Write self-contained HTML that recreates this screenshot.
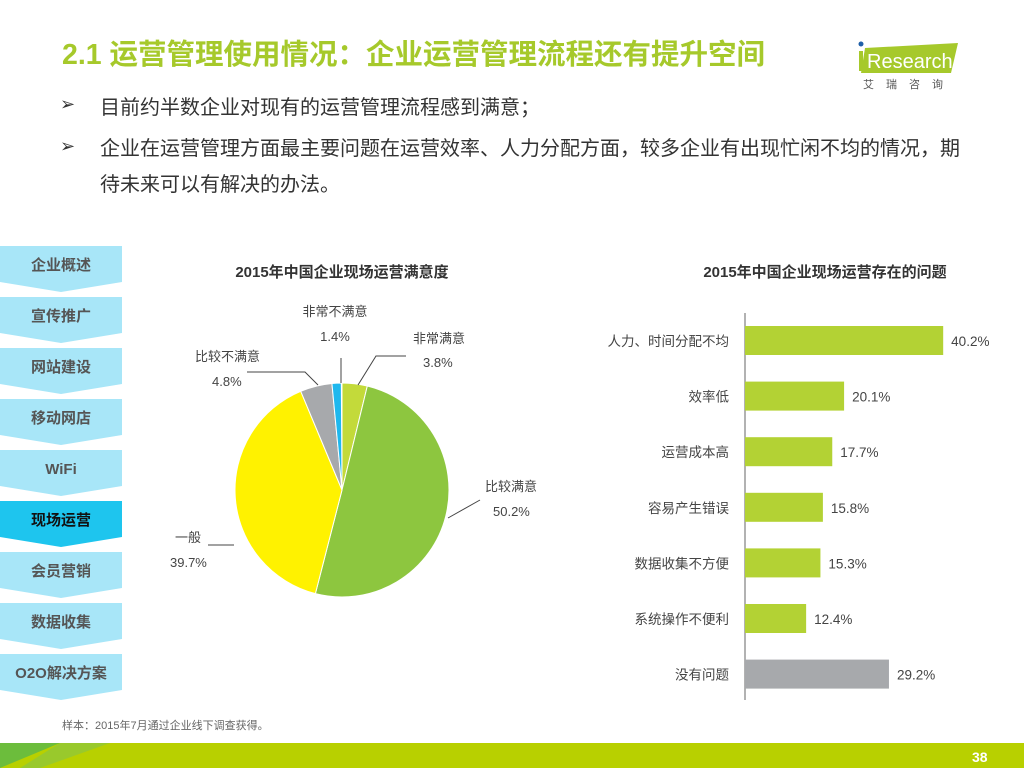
<!DOCTYPE html>
<html><head><meta charset="utf-8"><style>
body{margin:0;width:1024px;height:768px;position:relative;background:#fff;font-family:"Liberation Sans","Noto Sans CJK SC",sans-serif;overflow:hidden}
.t{position:absolute;white-space:nowrap}
</style></head><body>
<div class="t" style="left:62px;top:32px;font-size:28.5px;font-weight:bold;color:#a6c92b">2.1 运营管理使用情况：企业运营管理流程还有提升空间</div>
<svg style="position:absolute;left:855px;top:35px" width="120" height="60">
<polygon points="10,13 103,8 96,38 6,38" fill="#a6c92b"/>
<circle cx="6" cy="9" r="2.5" fill="#1f5fa8"/>
<rect x="4" y="16" width="4" height="20" fill="#a6c92b"/>
<text x="12" y="33" font-family="Liberation Sans" font-size="20" fill="#fff">Research</text>
<text x="8" y="53" font-family="Noto Sans CJK SC" font-size="11" fill="#555" letter-spacing="12">艾瑞咨询</text>
</svg>
<div class="t" style="left:60px;top:94px;font-size:18px;color:#333">➢</div>
<div class="t" style="left:100px;top:91px;font-size:20px;color:#333">目前约半数企业对现有的运营管理流程感到满意；</div>
<div class="t" style="left:60px;top:136px;font-size:18px;color:#333">➢</div>
<div class="t" style="left:100px;top:131px;font-size:20px;color:#333;line-height:36px">企业在运营管理方面最主要问题在运营效率、人力分配方面，较多企业有出现忙闲不均的情况，期<br>待未来可以有解决的办法。</div>
<svg style="position:absolute;left:0;top:0" width="1024" height="768" id="s"></svg>
<div class="t" style="left:62px;top:717px;font-size:11px;color:#666">样本：2015年7月通过企业线下调查获得。</div>
<script>
var s=document.getElementById('s'),h='';
var nav=['企业概述','宣传推广','网站建设','移动网店','WiFi','现场运营','会员营销','数据收集','O2O解决方案'];
for(var i=0;i<9;i++){var y=246+i*51,c=i==5?'#1ec5ee':'#a8e6f8';
h+='<polygon points="0,'+y+' 122,'+y+' 122,'+(y+36)+' 61,'+(y+46)+' 0,'+(y+36)+'" fill="'+c+'"/>';
h+='<text x="61" y="'+(y+24)+'" text-anchor="middle" font-size="15" font-weight="bold" fill="'+(i==5?'#111':'#555')+'" font-family="Liberation Sans,Noto Sans CJK SC,sans-serif">'+nav[i]+'</text>';}
h+='<text x="342" y="277" text-anchor="middle" font-size="15" font-weight="bold" fill="#333" font-family="Liberation Sans,Noto Sans CJK SC,sans-serif">2015年中国企业现场运营满意度</text>';
h+='<text x="825" y="277" text-anchor="middle" font-size="15" font-weight="bold" fill="#333" font-family="Liberation Sans,Noto Sans CJK SC,sans-serif">2015年中国企业现场运营存在的问题</text>';
var cx=342,cy=490,r=107,v=[3.8,50.2,39.7,4.8,1.4],col=['#c3da3a','#8dc63f','#fff200','#a7a9ac','#1fb8ee'],a=0;
for(i=0;i<5;i++){var a0=a,a1=a+v[i]/100*2*Math.PI;a=a1;
var x0=cx+r*Math.sin(a0),y0=cy-r*Math.cos(a0),x1=cx+r*Math.sin(a1),y1=cy-r*Math.cos(a1);
h+='<path d="M'+cx+','+cy+' L'+x0+','+y0+' A'+r+','+r+' 0 '+(a1-a0>Math.PI?1:0)+' 1 '+x1+','+y1+' Z" fill="'+col[i]+'" stroke="#fff" stroke-width="1"/>';}
h+='<g stroke="#444" fill="none"><path d="M358,385 L376,356 L406,356"/><path d="M448,518 L480,500"/><path d="M234,545 L208,545"/><path d="M318,385 L305,372 L247,372"/><path d="M341,383 L341,358"/></g>';
function t(x,y,s,an,fs){h+='<text x="'+x+'" y="'+y+'" text-anchor="'+(an||'start')+'" font-size="'+(fs||13)+'" fill="#444" font-family="Liberation Sans,Noto Sans CJK SC,sans-serif">'+s+'</text>';}
t(335,316,'非常不满意','middle');t(335,341,'1.4%','middle');t(413,343,'非常满意');t(423,367,'3.8%');
t(485,491,'比较满意');t(493,516,'50.2%');t(175,542,'一般');t(170,567,'39.7%');t(195,361,'比较不满意');t(212,386,'4.8%');
h+='<line x1="745" y1="313" x2="745" y2="700" stroke="#666"/>';
var bl=['人力、时间分配不均','效率低','运营成本高','容易产生错误','数据收集不方便','系统操作不便利','没有问题'],bv=[40.2,20.1,17.7,15.8,15.3,12.4,29.2];
for(i=0;i<7;i++){var yy=326+i*55.6,w=bv[i]*4.93;
h+='<rect x="745" y="'+yy+'" width="'+w+'" height="29" fill="'+(i==6?'#a7a9ac':'#b3d234')+'"/>';
t(729,yy+20,bl[i],'end',13.5);t(753+w,yy+20,bv[i].toFixed(1)+'%',null,13.5);}
h+='<rect x="0" y="743" width="1024" height="25" fill="#b8d000"/><polygon points="0,743 60,743 0,768" fill="#6cbd3c"/><polygon points="20,768 60,743 110,743 40,768" fill="#8cc63f" opacity="0.7"/>';
h+='<text x="972" y="762" font-size="14" font-weight="bold" fill="#fff" font-family="Liberation Sans">38</text>';
s.innerHTML=h;
</script>
</body></html>
